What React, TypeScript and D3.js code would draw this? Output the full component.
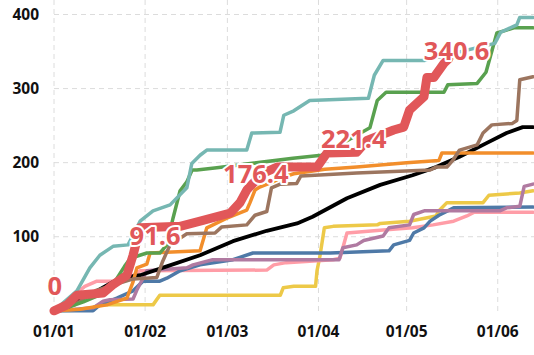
import React from "react";
import * as d3 from "d3";

// Day offsets from 2021-01-01 and cumulative values
const teal: [number, number][] = [[0,0],[7.8,27],[12.2,58],[15.6,75],[20.1,87],[25.2,89],[29.3,121],[33.7,135],[39.5,143],[45.2,166],[46.9,199],[49.7,210],[52,217],[65.6,217],[67.3,240],[76.9,241],[78.2,264],[81.6,270],[87,284],[107,287],[109,318],[112,338],[126,338],[150,361],[152,376],[157.5,386],[158.5,396],[163,396]];
const green: [number, number][] = [[0,0],[5,5],[10,12],[16,22],[20,35],[24,60],[26,71],[31.6,78],[36,78],[38.4,89],[40.5,125],[42.9,162],[45.2,174],[47,190],[48.6,190],[55.4,193],[81.3,206],[91,210],[107.5,247],[110,284],[113,295],[132.7,295],[134,305],[144,307],[147,322],[150.7,375],[154,379],[156.5,382],[163,382]];
const orange: [number, number][] = [[0,0],[8.8,2],[18,8],[24.8,17],[26.9,39],[28.2,58],[31.6,63],[32.7,78],[49.7,81],[52,112],[58.8,125],[65.6,136],[66.7,146],[68.4,163],[70,167],[74.5,174],[76.9,179],[81.6,185],[92.2,191],[103,194],[120,200],[131,203],[132,213],[163,213]];
const brown: [number, number][] = [[0,0],[7,8],[14.6,28],[27,43],[35,45],[37,67],[39.5,89],[45.2,104],[54.8,105],[57,113],[65.6,116],[68.4,129],[72.4,134],[74,166],[77,171],[82.6,172],[84,182],[103,186],[128,190],[130,194],[133.7,194],[135.7,203],[138,217],[144,224],[146,240],[149,251],[156,253],[157.5,257],[158.5,312],[163,316]];
const black: [number, number][] = [[0,0],[5.4,8],[14.6,27],[22.4,44],[29.3,48],[38.4,60],[49.7,75],[60.9,94],[72.4,108],[82.7,118],[88,127],[99.7,152],[111,170],[122,183],[130,194],[138,208],[147,226],[154,240],[159.5,248],[163,248]];
const blue: [number, number][] = [[0,0],[13.3,0],[15.6,8],[21.4,17],[26.9,27],[30.3,40],[36,40],[38.4,44],[42.9,54],[49.7,62],[60.9,69],[67.7,78],[94,78],[114,81],[115.6,89],[121,95],[122.4,105],[125.9,112],[128,121],[131,129],[136,139],[163,140]];
const purple: [number, number][] = [[0,0],[4.4,1],[13.3,4],[16.7,13],[19,15],[26.9,16],[28.2,28],[30.3,44],[31.6,54],[45.2,58],[47.3,62],[54,69],[97,69],[98.3,85],[103,89],[105.4,95],[112,101],[114,112],[121,116],[122.4,130],[126,135],[151.7,135],[154,139],[158.5,141],[160,168],[163,171]];
const pink: [number, number][] = [[0,0],[2.7,8],[6.5,20],[10.5,33],[14.6,40],[23.5,40],[27,48],[29.3,54],[72.4,55],[74.8,62],[79,65],[95,69],[97.3,71],[99.7,105],[112,109],[122,112],[129,116],[136,121],[140.5,128],[143,133],[163,133]];
const yellow: [number, number][] = [[0,0],[11,1],[15.6,8],[33.7,8],[36,21],[77,21],[78,31],[81.6,33],[89,33],[89.5,54],[90.5,74],[92,112],[95,114],[110,116],[111,118],[121,121],[130,128],[131,135],[133.7,146],[146,146],[148,156],[158.5,159],[163,162]];
const red: [number, number][] = [[0,0],[4.4,8],[7.8,21],[16.7,24],[20,35],[24.8,48],[26.9,75],[29.3,112],[42.9,114],[50.7,122],[60,132],[63.3,146],[65.6,163],[67.7,172],[71.8,187],[75.9,194],[89.5,194],[92.9,213],[103,214],[106.5,230],[115.6,244],[119,248],[121,271],[125.9,289],[126.9,315],[129.3,315],[132.7,334],[134.4,340.6]];

// Labels on the highlighted series: [day, anchor value, text]
const labelDays = [0.3, 34.4, 68.7, 102, 137];
const labelAnchors = [21, 89, 172.5, 220, 338.6];
const labelTexts = ["0", "91.6", "176.4", "221.4", "340.6"];

const yTicks = [100, 200, 300, 400];
const xTickMonths = [0, 1, 2, 3, 4, 5];

const start = new Date(2021, 0, 1);
const dayToDate = (d: number) => start.getTime() + d * 86400000;

export default function App() {
  const W = 534, H = 355;
  const x = d3.scaleTime().domain([start, new Date(2021, 5, 13)]).range([54, 533]);
  const y = d3.scaleLinear().domain([0, 400]).range([310.8, 14.5]);
  const line = d3.line<[number, number]>()
    .x((p) => x(new Date(dayToDate(p[0]))))
    .y((p) => y(p[1]));

  const series: { data: [number, number][]; color: string; w: number }[] = [
    { data: yellow, color: "#edc948", w: 3.5 },
    { data: pink, color: "#ff9da7", w: 3.5 },
    { data: blue, color: "#4e79a7", w: 3.5 },
    { data: purple, color: "#b07aa1", w: 3.5 },
    { data: black, color: "#000000", w: 3.8 },
    { data: orange, color: "#f28e2b", w: 3.5 },
    { data: brown, color: "#9c755f", w: 3.5 },
    { data: green, color: "#59a14f", w: 3.5 },
    { data: teal, color: "#76b7b2", w: 3.5 },
    { data: red, color: "#e15759", w: 9 },
  ];

  const font = "'Open Sans', sans-serif";
  return (
    <svg width={W} height={H} style={{ position: "absolute", left: 0, top: 0, background: "#fff" }}>
      {yTicks.map((t) => (
        <line key={"h" + t} x1={54} x2={W} y1={y(t)} y2={y(t)} stroke="#dcdcdc" strokeDasharray="5,4" />
      ))}
      {xTickMonths.map((m) => {
        const xx = x(new Date(2021, m, 1));
        return <line key={"v" + m} x1={xx} x2={xx} y1={0} y2={311} stroke="#dcdcdc" strokeDasharray="5,4" />;
      })}
      {yTicks.map((t) => (
        <text key={"yl" + t} x={39} y={y(t)} dy="0.35em" textAnchor="end" fontFamily={font} fontWeight={700} fontSize={15.5} fill="#111">
          {t}
        </text>
      ))}
      {xTickMonths.map((m) => {
        const dt = new Date(2021, m, 1);
        return (
          <text key={"xl" + m} x={x(dt)} y={337} textAnchor="middle" fontFamily={font} fontWeight={700} fontSize={15.5} fill="#111">
            {d3.timeFormat("%d/%m")(dt)}
          </text>
        );
      })}
      {series.map((s, i) => (
        <path key={i} d={line(s.data) || ""} fill="none" stroke={s.color} strokeWidth={s.w} strokeLinejoin="round" strokeLinecap="round" />
      ))}
      {labelTexts.map((t, i) => (
        <text key={"lb" + i} x={x(new Date(dayToDate(labelDays[i])))} y={y(labelAnchors[i])} textAnchor="middle"
          fontFamily={font} fontWeight={700} fontSize={25.5} fill="#e15759" stroke="#fff" strokeWidth={4}
          strokeLinejoin="round" style={{ paintOrder: "stroke" }}>
          {t}
        </text>
      ))}
    </svg>
  );
}
